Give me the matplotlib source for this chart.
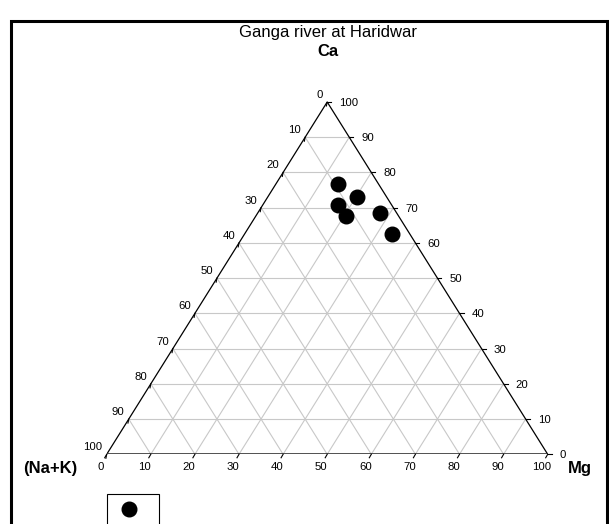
import matplotlib
matplotlib.use("Agg")
import numpy as np
import matplotlib.pyplot as plt
from matplotlib.patches import Rectangle

plt.rcParams['font.family'] = ['Liberation Sans', 'DejaVu Sans']

# ── data (percent) ──────────────────────────────────────────────
title = "Ganga river at Haridwar"
ca = [76.6, 72.9, 70.8, 67.6, 68.4, 62.6]
mg = [14.2, 20.3, 17.0, 20.5, 27.8, 33.4]
tick_vals = list(range(0, 101, 10))

W, H = 609, 524
fig = plt.figure(figsize=(W / 100, H / 100), dpi=100)

# triangle corners in pixels: left (106.7, 454.3), right (547.7, 454.3), apex y 102
ax = fig.add_axes([106.7 / W, 1 - 454.3 / H, 441 / W, 352.3 / H])
ax.set_xlim(0, 1)
ax.set_ylim(0, 1)
ax.axis('off')

px = 1 / 441.0    # data units per pixel, x
py = 1 / 352.3    # data units per pixel, y


def tern(c, m):
    """Ca, Mg (%) -> cartesian axes coords."""
    c = np.asarray(c) / 100.0
    m = np.asarray(m) / 100.0
    return m + c / 2, c


# grid
gcol = '#c8c8c8'
for v in tick_vals[1:-1]:
    f = v / 100.0
    # Ca constant (horizontal)
    ax.plot([f / 2, 1 - f / 2], [f, f], color=gcol, lw=0.8, zorder=1)
    # Mg constant (parallel to left edge)
    ax.plot([f, f + (1 - f) / 2], [0, 1 - f], color=gcol, lw=0.8, zorder=1)
    # Na+K constant (parallel to right edge)
    ax.plot([1 - f, (1 - f) / 2], [0, 1 - f], color=gcol, lw=0.8, zorder=1)

# triangle
ax.plot([0, 0.5, 1], [0, 1, 0], color='black', lw=0.9, zorder=2)
ax.plot([0, 1], [0, 0], color='#333333', lw=1.2, zorder=2)

# ticks + labels
tl = 4  # tick length px
fs = 8.2
for v in tick_vals:
    f = v / 100.0
    # bottom axis (Mg)
    x0, y0 = f, 0
    ax.plot([x0, x0 - 0.5 * tl * px], [y0, y0 - 0.866 * tl * py], color='black', lw=0.8, clip_on=False)
    ax.annotate(str(v), (x0, y0), xytext=(-6, -13), textcoords='offset pixels',
                ha='center', va='center', fontsize=fs)
    # right axis (Ca)
    x0, y0 = 1 - f / 2, f
    ax.plot([x0, x0 + tl * px], [y0, y0], color='black', lw=0.8, clip_on=False)
    ax.annotate(str(v), (x0, y0), xytext=(12, -1), textcoords='offset pixels',
                ha='left', va='center', fontsize=fs)
    # left axis (Na+K)
    x0, y0 = (1 - f) / 2, 1 - f
    ax.plot([x0, x0 - 0.2 * tl * px], [y0, y0 - tl * py], color='black', lw=0.8, clip_on=False)
    ax.annotate(str(v), (x0, y0), xytext=(-4, 7), textcoords='offset pixels',
                ha='right', va='center', fontsize=fs)

# data points
xs, ys = tern(ca, mg)
ax.scatter(xs, ys, s=110, color='black', zorder=5, clip_on=False)

# vertex labels and title
fig.text(328 / W, 1 - 33 / H, title, ha='center', va='center', fontsize=12)
fig.text(328 / W, 1 - 52 / H, 'Ca', ha='center', va='center', fontsize=12, fontweight='bold')
fig.text(50 / W, 1 - 468 / H, '(Na+K)', ha='center', va='center', fontsize=12, fontweight='bold')
fig.text(580 / W, 1 - 469 / H, 'Mg', ha='center', va='center', fontsize=12, fontweight='bold')

# legend box
fig.patches.append(Rectangle((107 / W, -0.05), 52 / W, 0.05 + 1 - 494 / H, transform=fig.transFigure,
                             fill=False, edgecolor='black', lw=0.8))
fig.lines.append(plt.Line2D([129 / W], [1 - 509 / H], marker='o', markersize=10.5,
                            color='black', transform=fig.transFigure))

# outer frame
fig.patches.append(Rectangle((10.5 / W, -0.05), (607 - 10.5) / W, 1.05 - 21 / H,
                             transform=fig.transFigure, fill=False, edgecolor='black', lw=2.2))

fig.savefig('out.png', dpi=100)
